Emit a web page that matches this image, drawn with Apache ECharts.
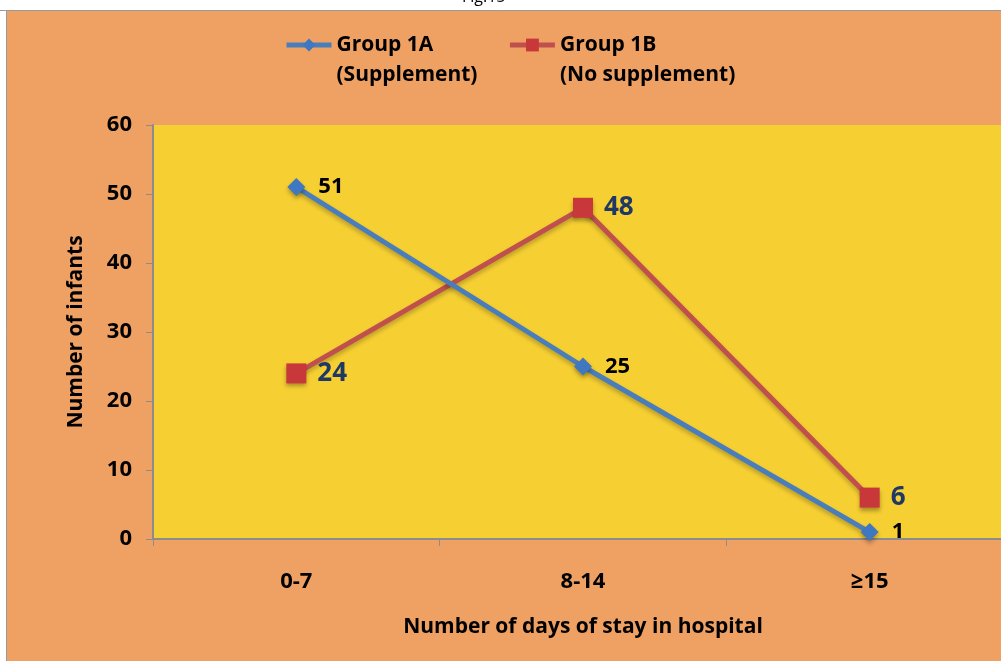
<!DOCTYPE html>
<html><head><meta charset="utf-8">
<script src="https://cdn.jsdelivr.net/npm/echarts@6/dist/echarts.min.js"></script>
<style>html,body{margin:0;padding:0;background:#EFA063;}#c{width:1001px;height:661px;}</style>
</head><body><div id="c"></div>
<script>
const categories = ['0-7', '8-14', '\u226515'];
const groupA = [51, 25, 1];
const groupB = [24, 48, 6];
const nameA = 'Group 1A\n(Supplement)';
const nameB = 'Group 1B\n(No supplement)';
const yTicks = [0, 60, 10];

const FONT = '"Open Sans", Lato, sans-serif';
const chart = echarts.init(document.getElementById('c'));
chart.setOption({
  backgroundColor: '#EFA063',
  textStyle: { fontFamily: FONT },
  graphic: [
    { type: 'rect', shape: { x: 0, y: 0, width: 1001, height: 10 }, style: { fill: '#ffffff' }, z: 10 },
    { type: 'text', left: 462, top: -11, z: 12, style: { text: 'Fig.15', fontSize: 16, fill: '#000', fontFamily: FONT } },
    { type: 'line', shape: { x1: 0, y1: 10.5, x2: 1001, y2: 10.5 }, style: { stroke: '#9a9a9a', lineWidth: 1 }, z: 11 },
    { type: 'rect', shape: { x: 0, y: 0, width: 6, height: 661 }, style: { fill: '#ffffff' }, z: 10 },
    { type: 'line', shape: { x1: 6.5, y1: 10, x2: 6.5, y2: 661 }, style: { stroke: '#9a9a9a', lineWidth: 1 }, z: 11 }
  ],
  legend: {
    left: 284, top: 0, padding: 0, itemWidth: 45, itemHeight: 16, itemGap: 30,
    data: [nameA, nameB],
    formatter: function (n) { return '\u00a0\n' + n; },
    lineStyle: { width: 5 },
    textStyle: { fontSize: 21, fontWeight: 'bold', color: '#000', lineHeight: 30, fontFamily: FONT }
  },
  grid: { left: 153, right: -12, top: 125, bottom: 122, outerBoundsMode: 'none', containLabel: false, show: true, backgroundColor: '#F6CF33', borderWidth: 0 },
  xAxis: {
    type: 'category', data: categories, boundaryGap: true,
    name: 'Number of days of stay in hospital', nameLocation: 'middle', nameGap: 78,
    nameTextStyle: { fontSize: 21, fontWeight: 'bold', color: '#000', fontFamily: FONT },
    axisLine: { lineStyle: { color: '#8c8c8c', width: 2 } },
    axisTick: { show: true, length: 7, lineStyle: { color: '#8c8c8c' } },
    axisLabel: { fontSize: 22, fontWeight: 'bold', color: '#000', margin: 32, fontFamily: FONT },
    splitLine: { show: false }
  },
  yAxis: {
    type: 'value', min: yTicks[0], max: yTicks[1], interval: yTicks[2],
    name: 'Number of infants', nameLocation: 'middle', nameGap: 66, nameRotate: 90,
    nameTextStyle: { fontSize: 21, fontWeight: 'bold', color: '#000', fontFamily: FONT },
    axisLine: { show: true, lineStyle: { color: '#8c8c8c', width: 2 } },
    axisTick: { show: true, length: 7, lineStyle: { color: '#8c8c8c' } },
    axisLabel: { fontSize: 22, fontWeight: 'bold', color: '#000', margin: 21, fontFamily: FONT },
    splitLine: { show: false }
  },
  series: [
    {
      name: nameA, type: 'line', data: groupA,
      symbol: 'diamond', symbolSize: 18,
      lineStyle: { color: '#4A7EBB', width: 5, shadowColor: 'rgba(0,0,0,0.25)', shadowBlur: 4, shadowOffsetY: 3 },
      itemStyle: { color: '#3F78C0', shadowColor: 'rgba(0,0,0,0.3)', shadowBlur: 4, shadowOffsetY: 3 },
      label: { show: true, position: 'right', distance: 13, fontSize: 22, fontWeight: 'bold', color: '#000', fontFamily: FONT },
      z: 3
    },
    {
      name: nameB, type: 'line', data: groupB,
      symbol: 'rect', symbolSize: 20,
      lineStyle: { color: '#C0504D', width: 5, shadowColor: 'rgba(0,0,0,0.25)', shadowBlur: 4, shadowOffsetY: 3 },
      itemStyle: { color: '#C8373A', shadowColor: 'rgba(0,0,0,0.3)', shadowBlur: 4, shadowOffsetY: 3 },
      label: { show: true, position: 'right', distance: 11, fontSize: 26, fontWeight: 'bold', color: '#1F3864', fontFamily: FONT },
      z: 2
    }
  ]
});
</script></body></html>
